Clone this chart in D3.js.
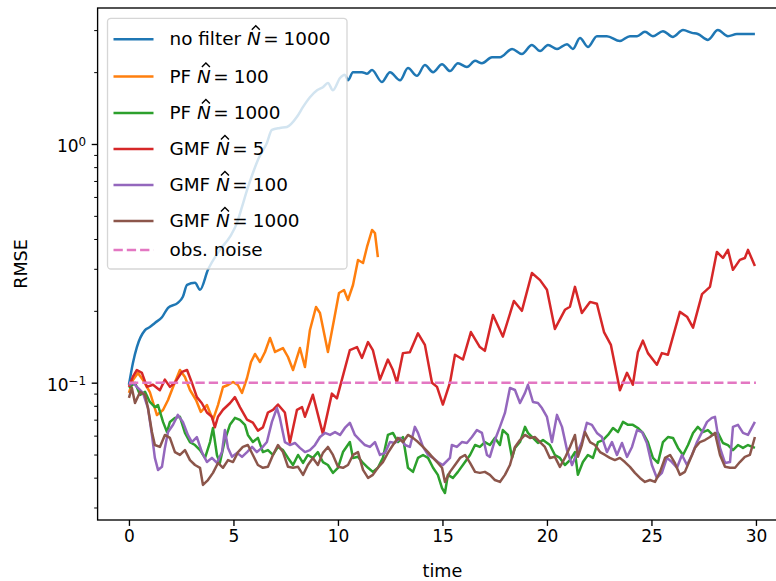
<!DOCTYPE html>
<html>
<head>
<meta charset="utf-8">
<script src="https://cdn.jsdelivr.net/npm/d3@7/dist/d3.min.js"></script>
<style>
  body { margin: 0; background: #fff; }
  text { font-family: "DejaVu Sans", sans-serif; fill: #000; }
</style>
</head>
<body>
<div id="chart"></div>
<script>
// [time, RMSE] pairs
const noFilter = [[0,0.098],[0.19,0.121],[0.38,0.141],[0.77,0.166],[1.0,0.171],[1.24,0.178],[1.58,0.188],[1.87,0.206],[2.34,0.216],[2.58,0.229],[2.78,0.257],[3.16,0.262],[3.40,0.245],[3.78,0.297],[4.35,0.360],[4.83,0.408],[5.17,0.467],[5.41,0.545],[5.65,0.641],[5.93,0.756],[6.17,0.857],[6.60,1.01],[6.84,1.145],[7.22,1.167],[7.56,1.178],[8.04,1.30],[8.33,1.43],[8.66,1.57],[9.0,1.68],[9.28,1.73],[9.52,1.80],[9.76,1.68],[10.1,1.89],[10.33,1.95],[10.48,1.85],[10.72,2.00],[11.15,2.00],[11.39,1.97],[11.63,2.04],[12.1,1.82],[12.49,2.00],[12.97,1.85],[13.35,2.08],[13.78,1.93],[14.16,2.14],[14.55,2.00],[14.98,2.16],[15.36,2.02],[15.74,2.18],[16.17,2.10],[16.56,2.23],[16.89,2.18],[17.37,2.31],[17.75,2.31],[18.33,2.50],[18.80,2.38],[19.28,2.60],[19.67,2.45],[20.05,2.60],[20.48,2.50],[20.96,2.62],[21.24,2.50],[21.58,2.78],[21.96,2.55],[22.39,2.83],[22.87,2.83],[23.49,2.70],[23.97,2.83],[24.31,2.83],[24.69,2.95],[25.07,2.83],[25.55,2.97],[26.03,2.81],[26.51,3.00],[26.94,2.92],[27.22,2.89],[27.70,2.73],[28.18,3.00],[28.66,2.83],[29.09,2.89],[29.57,2.89],[29.95,2.89]];

const pf100 = [[0,0.0906],[0.19,0.1026],[0.43,0.1098],[0.67,0.1026],[1.0,0.0914],[1.34,0.0732],[1.63,0.0768],[1.87,0.0846],[2.11,0.0959],[2.44,0.113],[2.68,0.1056],[2.92,0.0932],[3.21,0.0846],[3.44,0.0754],[3.73,0.0806],[4.02,0.0698],[4.26,0.0806],[4.50,0.0959],[4.74,0.0978],[4.98,0.1007],[5.21,0.0978],[5.41,0.0906],[5.65,0.1046],[5.84,0.1221],[6.03,0.1319],[6.27,0.1221],[6.51,0.1345],[6.75,0.154],[6.99,0.1345],[7.37,0.1397],[7.61,0.1281],[7.85,0.113],[8.18,0.1397],[8.42,0.1163],[8.66,0.1663],[8.95,0.2075],[9.14,0.1959],[9.52,0.1345],[9.81,0.1831],[10.05,0.2375],[10.29,0.2445],[10.48,0.2221],[10.72,0.2566],[10.96,0.3266],[11.2,0.3172],[11.39,0.3703],[11.63,0.4362],[11.77,0.4237],[11.91,0.336]];

const pf1000 = [[0,0.0951],[0.29,0.0998],[0.53,0.0889],[0.77,0.0915],[1.00,0.0830],[1.24,0.0790],[1.39,0.0806],[1.63,0.0685],[1.82,0.0621],[1.96,0.0685],[2.20,0.0712],[2.44,0.0719],[2.68,0.0616],[2.92,0.0564],[3.16,0.0548],[3.40,0.0522],[3.64,0.0484],[3.88,0.0564],[4.02,0.0646],[4.21,0.0498],[4.35,0.0461],[4.59,0.0575],[4.83,0.0666],[5.07,0.0712],[5.31,0.0698],[5.55,0.0666],[5.69,0.0604],[5.93,0.0564],[6.17,0.0587],[6.41,0.0512],[6.65,0.0522],[6.89,0.0498],[7.13,0.0538],[7.37,0.0522],[7.61,0.0484],[7.85,0.0452],[8.09,0.0498],[8.33,0.0461],[8.56,0.0498],[8.80,0.0484],[9.04,0.0512],[9.28,0.0465],[9.52,0.0452],[9.76,0.0419],[10.00,0.0440],[10.24,0.0512],[10.57,0.0564],[10.72,0.0484],[10.96,0.0489],[11.20,0.0461],[11.44,0.0440],[11.67,0.0423],[11.91,0.0440],[12.15,0.0484],[12.39,0.0604],[12.63,0.0616],[12.87,0.0564],[13.11,0.0592],[13.35,0.0440],[13.59,0.0423],[13.83,0.0484],[14.07,0.0498],[14.31,0.0484],[14.55,0.0440],[14.78,0.0411],[14.98,0.0362],[15.12,0.0345],[15.26,0.0411],[15.50,0.0399],[15.74,0.0423],[16.08,0.0465],[16.32,0.0498],[16.56,0.0548],[16.79,0.0538],[17.03,0.0564],[17.27,0.0548],[17.51,0.0587],[17.75,0.0548],[17.89,0.0633],[18.13,0.0604],[18.33,0.0484],[18.47,0.0533],[18.71,0.0564],[18.95,0.0653],[19.09,0.0616],[19.33,0.0587],[19.57,0.0559],[19.81,0.0575],[20.14,0.0548],[20.38,0.0498],[20.62,0.0484],[20.86,0.0452],[21.10,0.0474],[21.34,0.0512],[21.48,0.0411],[21.72,0.0465],[21.96,0.0498],[22.20,0.0484],[22.44,0.0564],[22.68,0.0575],[22.92,0.0604],[23.16,0.0646],[23.40,0.0621],[23.64,0.0685],[23.88,0.0666],[24.11,0.0666],[24.35,0.0646],[24.59,0.0616],[24.83,0.0564],[25.07,0.0484],[25.31,0.0461],[25.55,0.0564],[25.79,0.0592],[26.03,0.0587],[26.27,0.0533],[26.51,0.0498],[26.75,0.0548],[26.99,0.0616],[27.22,0.0653],[27.46,0.0621],[27.70,0.0633],[27.94,0.0604],[28.18,0.0616],[28.42,0.0559],[28.66,0.0548],[28.90,0.0522],[29.14,0.0548],[29.38,0.0533],[29.62,0.0548],[29.95,0.0533]];

const gmf5 = [[0,0.096],[0.19,0.106],[0.38,0.113],[0.62,0.110],[0.86,0.096],[1.15,0.098],[1.48,0.093],[1.72,0.103],[1.96,0.096],[2.2,0.100],[2.54,0.111],[2.78,0.113],[3.01,0.100],[3.25,0.087],[3.49,0.082],[3.73,0.075],[3.97,0.072],[4.11,0.065],[4.26,0.072],[4.5,0.077],[4.83,0.082],[5.07,0.087],[5.31,0.079],[5.65,0.070],[5.93,0.068],[6.17,0.063],[6.41,0.065],[6.65,0.075],[6.89,0.077],[7.13,0.081],[7.46,0.075],[7.70,0.056],[8.04,0.077],[8.28,0.079],[8.42,0.072],[8.8,0.089],[9.14,0.068],[9.28,0.061],[9.71,0.090],[9.95,0.086],[10.19,0.103],[10.57,0.137],[10.91,0.141],[11.15,0.127],[11.44,0.148],[11.67,0.137],[12.01,0.103],[12.39,0.125],[12.63,0.113],[12.82,0.100],[13.11,0.133],[13.44,0.134],[13.83,0.161],[14.16,0.144],[14.5,0.100],[14.74,0.096],[15.02,0.081],[15.36,0.100],[15.6,0.131],[15.98,0.125],[16.36,0.163],[16.79,0.141],[17.03,0.136],[17.42,0.192],[17.89,0.156],[18.42,0.220],[18.8,0.200],[19.28,0.288],[19.67,0.269],[20.0,0.245],[20.38,0.168],[20.86,0.202],[21.1,0.208],[21.34,0.252],[21.67,0.196],[22.06,0.218],[22.39,0.214],[22.73,0.163],[23.06,0.144],[23.25,0.119],[23.49,0.093],[23.83,0.110],[24.11,0.098],[24.35,0.134],[24.59,0.150],[24.83,0.133],[25.26,0.119],[25.5,0.133],[25.79,0.131],[26.36,0.198],[26.7,0.189],[26.99,0.170],[27.42,0.235],[27.8,0.252],[28.13,0.353],[28.42,0.333],[28.66,0.360],[28.9,0.297],[29.23,0.327],[29.47,0.333],[29.62,0.360],[29.95,0.308]];

const gmf100 = [[0,0.0979],[0.19,0.0998],[0.43,0.0951],[0.67,0.0906],[0.91,0.0783],[1.10,0.0604],[1.24,0.0484],[1.39,0.0431],[1.58,0.0444],[1.72,0.0533],[1.87,0.0621],[2.11,0.0666],[2.34,0.0733],[2.58,0.0685],[2.82,0.0604],[3.01,0.0564],[3.25,0.0592],[3.49,0.0512],[3.73,0.0465],[3.97,0.0484],[4.21,0.0461],[4.45,0.0512],[4.59,0.0633],[4.74,0.0533],[4.93,0.0489],[5.17,0.0508],[5.41,0.0489],[5.65,0.0512],[5.89,0.0538],[6.12,0.0512],[6.36,0.0533],[6.60,0.0564],[6.84,0.0685],[7.08,0.0783],[7.22,0.0712],[7.46,0.0564],[7.70,0.0548],[7.94,0.0559],[8.18,0.0533],[8.42,0.0512],[8.66,0.0522],[8.90,0.0548],[9.14,0.0592],[9.38,0.0616],[9.62,0.0604],[9.86,0.0621],[10.10,0.0604],[10.33,0.0646],[10.57,0.0679],[10.81,0.0604],[11.05,0.0575],[11.29,0.0548],[11.53,0.0538],[11.77,0.0564],[12.01,0.0498],[12.25,0.0508],[12.49,0.0564],[12.73,0.0559],[12.97,0.0587],[13.21,0.0548],[13.44,0.0538],[13.68,0.0653],[13.83,0.0616],[14.07,0.0538],[14.31,0.0498],[14.55,0.0484],[14.78,0.0465],[15.02,0.0452],[15.36,0.0484],[15.45,0.0548],[15.69,0.0538],[15.93,0.0564],[16.17,0.0559],[16.41,0.0592],[16.65,0.0633],[16.89,0.0616],[17.13,0.0498],[17.27,0.0489],[17.51,0.0575],[17.75,0.0653],[17.99,0.0747],[18.23,0.0951],[18.47,0.0932],[18.71,0.0822],[18.95,0.0906],[19.09,0.0979],[19.33,0.0830],[19.57,0.0822],[19.76,0.0783],[20.00,0.0719],[20.24,0.0564],[20.48,0.0733],[20.72,0.0653],[20.96,0.0522],[21.20,0.0452],[21.44,0.0508],[21.67,0.0564],[21.91,0.0679],[22.15,0.0666],[22.39,0.0616],[22.63,0.0592],[22.87,0.0512],[23.11,0.0564],[23.35,0.0498],[23.59,0.0559],[23.83,0.0489],[24.07,0.0538],[24.31,0.0633],[24.55,0.0621],[24.78,0.0559],[25.02,0.0452],[25.26,0.0399],[25.50,0.0419],[25.74,0.0484],[25.98,0.0465],[26.22,0.0440],[26.46,0.0498],[26.70,0.0452],[26.94,0.0498],[27.18,0.0564],[27.42,0.0621],[27.66,0.0685],[27.89,0.0712],[28.04,0.0719],[28.28,0.0533],[28.52,0.0461],[28.76,0.0465],[28.90,0.0653],[29.14,0.0666],[29.38,0.0616],[29.62,0.0604],[29.95,0.0685]];

const gmf1000 = [[0,0.0863],[0.14,0.0951],[0.29,0.0822],[0.53,0.0915],[0.77,0.0889],[0.91,0.0783],[1.10,0.0621],[1.24,0.0548],[1.48,0.0538],[1.72,0.0604],[1.96,0.0587],[2.20,0.0512],[2.44,0.0498],[2.68,0.0522],[2.92,0.0474],[3.16,0.0452],[3.40,0.0440],[3.54,0.0373],[3.78,0.0391],[4.02,0.0419],[4.26,0.0461],[4.50,0.0440],[4.74,0.0474],[4.98,0.0465],[5.22,0.0512],[5.45,0.0538],[5.69,0.0548],[5.93,0.0498],[6.17,0.0452],[6.41,0.0440],[6.65,0.0444],[6.89,0.0498],[7.13,0.0548],[7.37,0.0512],[7.61,0.0444],[7.85,0.0440],[8.09,0.0444],[8.33,0.0411],[8.56,0.0452],[8.80,0.0484],[9.04,0.0452],[9.28,0.0508],[9.52,0.0538],[9.76,0.0498],[10.00,0.0444],[10.24,0.0440],[10.48,0.0452],[10.72,0.0498],[10.96,0.0512],[11.20,0.0431],[11.44,0.0399],[11.67,0.0411],[11.91,0.0440],[12.15,0.0465],[12.39,0.0508],[12.63,0.0548],[12.87,0.0587],[13.11,0.0564],[13.35,0.0604],[13.59,0.0587],[13.83,0.0564],[14.07,0.0538],[14.31,0.0512],[14.55,0.0484],[14.78,0.0461],[14.98,0.0440],[15.12,0.0384],[15.36,0.0423],[15.60,0.0452],[15.84,0.0484],[16.08,0.0498],[16.32,0.0461],[16.56,0.0423],[16.79,0.0419],[17.03,0.0423],[17.27,0.0411],[17.51,0.0391],[17.75,0.0384],[17.99,0.0411],[18.23,0.0452],[18.47,0.0538],[18.71,0.0575],[18.95,0.0604],[19.19,0.0587],[19.43,0.0592],[19.67,0.0564],[19.90,0.0538],[20.14,0.0484],[20.38,0.0489],[20.62,0.0444],[20.86,0.0484],[21.10,0.0538],[21.34,0.0604],[21.48,0.0489],[21.67,0.0548],[21.82,0.0621],[22.06,0.0564],[22.30,0.0548],[22.54,0.0512],[22.78,0.0498],[23.01,0.0484],[23.25,0.0474],[23.49,0.0484],[23.73,0.0465],[23.97,0.0444],[24.21,0.0419],[24.45,0.0399],[24.69,0.0384],[24.93,0.0391],[25.17,0.0384],[25.41,0.0423],[25.65,0.0484],[25.89,0.0498],[26.12,0.0461],[26.36,0.0411],[26.60,0.0423],[26.84,0.0474],[27.08,0.0533],[27.32,0.0564],[27.56,0.0575],[27.80,0.0592],[28.04,0.0616],[28.28,0.0498],[28.52,0.0444],[28.76,0.0440],[29.00,0.0440],[29.23,0.0465],[29.47,0.0489],[29.71,0.0498],[29.95,0.0592]];

const obsNoise = [[0, 0.1], [30, 0.1]];

const xTicks = [0, 5, 10, 15, 20, 25, 30];
const yMajor = [0.1, 1];
const yMinor = [0.03, 0.04, 0.05, 0.06, 0.07, 0.08, 0.09, 0.2, 0.3, 0.4, 0.5, 0.6, 0.7, 0.8, 0.9, 2, 3];

const legendPrefix = ["no filter", "PF", "PF", "GMF", "GMF", "GMF", "obs. noise"];
const legendN = ["1000", "100", "1000", "5", "100", "1000", null];

const colors = ["#1f77b4", "#ff7f0e", "#2ca02c", "#d62728", "#9467bd", "#8c564b", "#e377c2"];
const series = [noFilter, pf100, pf1000, gmf5, gmf100, gmf1000, obsNoise];

const W = 776, H = 581;
const tickFs = 17;     // tick labels
const labelFs = 17.6;  // axis titles
const legFs = 18.4;    // legend entries
const plot = { left: 97.6, right: 787.3, top: 8, bottom: 520 };

const svg = d3.select("#chart").append("svg")
    .attr("width", W)
    .attr("height", H);

const x = d3.scaleLinear().domain([-1.5, 31.5]).range([plot.left, plot.right]);
const y = d3.scaleLog().domain([0.02659, 3.713]).range([plot.bottom, plot.top]);

svg.append("clipPath").attr("id", "clip")
    .append("rect")
    .attr("x", plot.left).attr("y", plot.top)
    .attr("width", plot.right - plot.left).attr("height", plot.bottom - plot.top);

// lines (the unfiltered run is a smooth oscillation, the rest are jagged)
const line = d3.line().x(d => x(d[0])).y(d => y(d[1]));
const smoothLine = d3.line().x(d => x(d[0])).y(d => y(d[1])).curve(d3.curveMonotoneX);
const lines = svg.append("g").attr("clip-path", "url(#clip)");
series.forEach((s, i) => {
    lines.append("path")
        .datum(s)
        .attr("d", i === 0 ? smoothLine : line)
        .attr("fill", "none")
        .attr("stroke", colors[i])
        .attr("stroke-width", 2.5)
        .attr("stroke-linejoin", "round")
        .attr("stroke-dasharray", i === 6 ? "9.3,4" : null);
});

// x axis
const xAxis = svg.append("g")
    .attr("transform", "translate(0," + plot.bottom + ")")
    .call(d3.axisBottom(x).tickValues(xTicks).tickSize(5.9).tickSizeOuter(0).tickPadding(4.5));
xAxis.select(".domain").remove();
xAxis.selectAll("line").attr("stroke", "#000").attr("stroke-width", 1.35);
xAxis.selectAll("text").attr("font-size", tickFs).attr("font-family", "DejaVu Sans").attr("fill", "#000");

// y axis, minor ticks
const yMinorAxis = svg.append("g")
    .attr("transform", "translate(" + plot.left + ",0)")
    .call(d3.axisLeft(y).tickValues(yMinor).tickSize(3.4).tickSizeOuter(0).tickFormat(""));
yMinorAxis.select(".domain").remove();
yMinorAxis.selectAll("line").attr("stroke", "#000").attr("stroke-width", 1);

// y axis, major ticks with 10^k labels
const yAxis = svg.append("g")
    .attr("transform", "translate(" + plot.left + ",0)")
    .call(d3.axisLeft(y).tickValues(yMajor).tickSize(5.9).tickSizeOuter(0).tickFormat(""));
yAxis.select(".domain").remove();
yAxis.selectAll("line").attr("stroke", "#000").attr("stroke-width", 1.35);
yAxis.selectAll(".tick text")
    .attr("x", -11.5)
    .attr("dy", null)
    .attr("y", 8)
    .attr("text-anchor", "end")
    .attr("fill", "#000")
    .each(function (d) {
        const t = d3.select(this);
        t.append("tspan").attr("font-size", tickFs).text("10");
        t.append("tspan").attr("font-size", tickFs * 0.7).attr("dy", -6.5)
            .text(String(Math.round(Math.log10(d))).replace("-", "\u2212"));
    });

// spines
svg.append("rect")
    .attr("x", plot.left).attr("y", plot.top)
    .attr("width", plot.right - plot.left).attr("height", plot.bottom - plot.top)
    .attr("fill", "none").attr("stroke", "#000").attr("stroke-width", 1.35);

// axis titles
svg.append("text")
    .attr("x", (plot.left + plot.right) / 2).attr("y", 576.5)
    .attr("text-anchor", "middle").attr("font-size", labelFs)
    .text("time");
svg.append("text")
    .attr("transform", "translate(26.5," + (plot.top + plot.bottom) / 2 + ") rotate(-90)")
    .attr("text-anchor", "middle").attr("font-size", labelFs)
    .text("RMSE");

// legend
const legend = svg.append("g");
legend.append("rect")
    .attr("x", 107.5).attr("y", 18.3)
    .attr("width", 239.5).attr("height", 250.7)
    .attr("rx", 3.5).attr("ry", 3.5)
    .attr("fill", "#fff").attr("fill-opacity", 0.8)
    .attr("stroke", "#ccc").attr("stroke-opacity", 0.8).attr("stroke-width", 1.3);

const rowY = [39.3, 76.5, 113, 149, 185, 221, 250];
legendPrefix.forEach((p, i) => {
    const ry = rowY[i];
    legend.append("line")
        .attr("x1", 113.5).attr("x2", 153.5)
        .attr("y1", ry).attr("y2", ry)
        .attr("stroke", colors[i]).attr("stroke-width", 2.5)
        .attr("stroke-dasharray", i === 6 ? "9.3,4" : null);

    const base = ry + 6;
    const t = legend.append("text")
        .attr("x", 169.5).attr("y", base)
        .attr("font-size", legFs);
    if (legendN[i] === null) {
        t.text(p);
        return;
    }
    t.append("tspan").text(p + " ");
    t.append("tspan").attr("font-style", "italic").text("N");
    t.append("tspan").attr("dx", 2.5).text("=");
    t.append("tspan").attr("dx", 5).text(legendN[i]);
    // circumflex accent over the italic N
    const ext = t.node().getExtentOfChar(p.length + 1);
    const cx = ext.x + ext.width / 2 + 2;
    legend.append("path")
        .attr("d", "M" + (cx - 4) + "," + (base - 15.5) + "L" + cx + "," + (base - 19.5) + "L" + (cx + 4) + "," + (base - 15.5))
        .attr("fill", "none")
        .attr("stroke", "#000")
        .attr("stroke-width", 1.4);
});
</script>
</body>
</html>
